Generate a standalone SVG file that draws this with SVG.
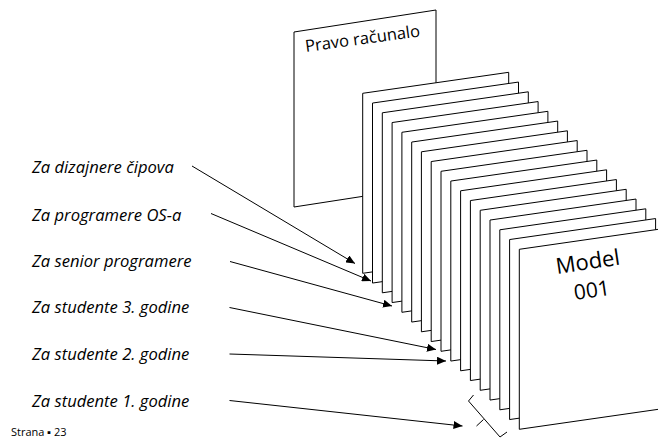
<svg xmlns="http://www.w3.org/2000/svg" width="658" height="440" viewBox="0 0 658 440">
<style>
.card{fill:#fff;stroke:#000;stroke-width:1}
.lbl{font-family:"Open Sans","Liberation Sans",sans-serif;font-style:italic;font-size:16.6px;fill:#000}
.conn{stroke:#000;stroke-width:1;fill:none;marker-end:url(#ah)}
</style>
<defs>
<marker id="ah" markerWidth="10" markerHeight="8" refX="9" refY="4" orient="auto" markerUnits="userSpaceOnUse">
<path d="M0,0 L9,4 L0,8 z" fill="#000"/>
</marker>
<path id="cp" d="M0,0 l146,-21 v180 l-146,21 z"/>
</defs>
<rect width="658" height="440" fill="#fff"/>
<g id="real-computer">
<path class="card" d="M294,32 L436,10 V185 L294,207 z"/>
<text transform="translate(306,52) rotate(-7.8)" font-family="'Open Sans','Liberation Sans',sans-serif" font-size="16.5">Pravo računalo</text>
</g>
<g id="card-01"><use href="#cp" class="card" x="362.7" y="93.3"/></g>
<g id="card-02"><use href="#cp" class="card" x="372.5" y="103.05"/></g>
<g id="card-03"><use href="#cp" class="card" x="382.3" y="112.8"/></g>
<g id="card-04"><use href="#cp" class="card" x="392.1" y="122.55"/></g>
<g id="card-05"><use href="#cp" class="card" x="401.9" y="132.3"/></g>
<g id="card-06"><use href="#cp" class="card" x="411.7" y="142.05"/></g>
<g id="card-07"><use href="#cp" class="card" x="421.4" y="151.8"/></g>
<g id="card-08"><use href="#cp" class="card" x="431.2" y="161.55"/></g>
<g id="card-09"><use href="#cp" class="card" x="441.0" y="171.3"/></g>
<g id="card-10"><use href="#cp" class="card" x="450.8" y="181.05"/></g>
<g id="card-11"><use href="#cp" class="card" x="460.6" y="190.8"/></g>
<g id="card-12"><use href="#cp" class="card" x="470.4" y="200.55"/></g>
<g id="card-13"><use href="#cp" class="card" x="480.2" y="210.3"/></g>
<g id="card-14"><use href="#cp" class="card" x="490.0" y="220.05"/></g>
<g id="card-15"><use href="#cp" class="card" x="499.8" y="229.8"/></g>
<g id="card-16"><use href="#cp" class="card" x="509.6" y="239.55"/></g>
<g id="model-001">
<use href="#cp" class="card" x="519.3" y="249.3"/>
<text transform="translate(557,274) rotate(-8.5)" font-family="'Open Sans','Liberation Sans',sans-serif" font-size="22">Model</text>
<text transform="translate(575,300) rotate(-8.5)" font-family="'Open Sans','Liberation Sans',sans-serif" font-size="21">001</text>
</g>
<g id="labels">
<text class="lbl" x="32" y="173">Za dizajnere čipova</text>
<text class="lbl" x="32" y="221">Za programere OS-a</text>
<text class="lbl" x="32" y="267">Za senior programere</text>
<text class="lbl" x="32" y="313">Za studente 3. godine</text>
<text class="lbl" x="32" y="360">Za studente 2. godine</text>
<text class="lbl" x="32" y="407">Za studente 1. godine</text>
</g>
<g id="connectors">
<line class="conn" x1="192" y1="166" x2="355" y2="263.5"/>
<line class="conn" x1="211" y1="213.5" x2="371" y2="281"/>
<line class="conn" x1="230" y1="261.5" x2="392" y2="306"/>
<line class="conn" x1="229.5" y1="307.5" x2="436" y2="349.5"/>
<line class="conn" x1="229.5" y1="354" x2="446" y2="361"/>
<line class="conn" x1="229.5" y1="400.5" x2="462.5" y2="426"/>
</g>
<g id="bracket" fill="none" stroke="#000" stroke-width="1">
<polyline points="473.5,395 468.5,401 500,437 507,432"/>
<line x1="483.5" y1="419.5" x2="476.5" y2="426"/>
</g>
<text x="11" y="436" font-family="'Open Sans','Liberation Sans',sans-serif" font-size="11">Strana ▪ 23</text>
</svg>
